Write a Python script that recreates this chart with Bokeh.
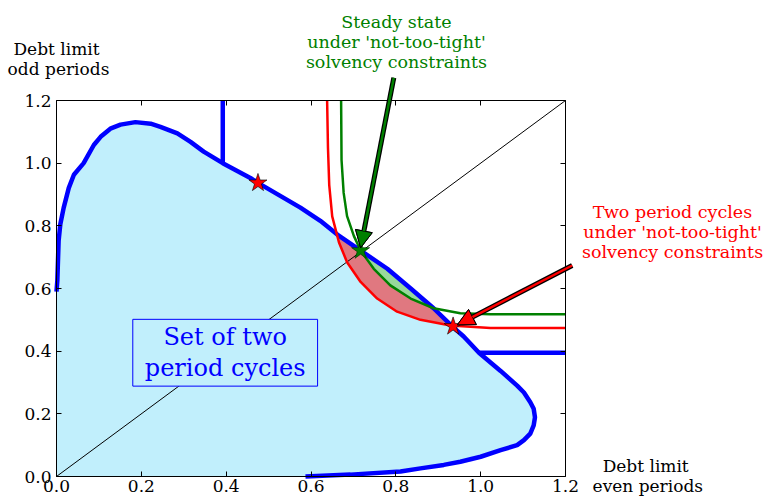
from bokeh.plotting import figure
from bokeh.models import Range1d, LinearAxis, Label, Arrow, NormalHead, FixedTicker, PrintfTickFormatter
from bokeh.embed import file_html
from bokeh.resources import INLINE

# ---- data ----
tick_values = [0.0, 0.2, 0.4, 0.6, 0.8, 1.0, 1.2]

# boundary of the set of two period cycles
set_x = [0.587, 0.693, 0.811, 0.858, 0.913, 0.952, 1.0, 1.047, 1.086, 1.102, 1.117, 1.125, 1.128,
         1.125, 1.117, 1.102, 1.086, 1.047, 0.996, 0.96, 0.933, 0.889, 0.835, 0.78, 0.717, 0.662,
         0.622, 0.575, 0.475, 0.457, 0.392, 0.347, 0.316, 0.285, 0.245, 0.222, 0.186, 0.151, 0.127,
         0.104, 0.088, 0.064, 0.041, 0.029, 0.017, 0.009, 0.005, 0.002, 0.0]
set_y = [0.0, 0.006, 0.016, 0.026, 0.037, 0.047, 0.063, 0.084, 0.1, 0.116, 0.137, 0.163, 0.189,
         0.216, 0.237, 0.268, 0.29, 0.337, 0.395, 0.447, 0.479, 0.537, 0.6, 0.663, 0.721, 0.772,
         0.816, 0.858, 0.937, 0.953, 1.0, 1.037, 1.068, 1.095, 1.116, 1.126, 1.131, 1.123, 1.11,
         1.084, 1.058, 1.0, 0.963, 0.921, 0.858, 0.805, 0.752, 0.626, 0.59]

vert_x = [0.392, 0.392]
vert_y = [1.0, 1.2]
horiz_x = [0.996, 1.2]
horiz_y = [0.395, 0.395]

diag_x = [0.0, 1.2]
diag_y = [0.0, 1.2]

red_x = [0.638, 0.64, 0.643, 0.65, 0.666, 0.685, 0.717, 0.756, 0.803, 0.858, 0.929, 1.023, 1.2]
red_y = [1.2, 1.05, 0.93, 0.83, 0.747, 0.684, 0.621, 0.568, 0.526, 0.5, 0.482, 0.474, 0.474]

green_x = [0.671, 0.672, 0.677, 0.685, 0.701, 0.717, 0.748, 0.787, 0.835, 0.889, 0.952, 1.023, 1.2]
green_y = [1.2, 1.01, 0.905, 0.831, 0.768, 0.721, 0.663, 0.61, 0.568, 0.537, 0.521, 0.518, 0.518]

red_star_x = [0.475, 0.935]
red_star_y = [0.937, 0.479]
green_star_x = [0.717]
green_star_y = [0.721]

# ---- derived polygons ----
fill_x = set_x + [0.0]
fill_y = set_y + [0.0]

def upper_blue(lo, hi):
    pts = [(x, y) for x, y in zip(set_x, set_y) if lo <= x <= hi and y > 0.4]
    pts.sort()
    return pts

rb = upper_blue(0.66, 0.94)
rr = sorted([(x, y) for x, y in zip(red_x, red_y) if 0.66 <= x <= 0.94], reverse=True)
redfill_x = [q[0] for q in rb] + [q[0] for q in rr]
redfill_y = [q[1] for q in rb] + [q[1] for q in rr]

gb = upper_blue(0.717, 0.889)
gg = sorted([(x, y) for x, y in zip(green_x, green_y) if 0.717 < x < 0.889], reverse=True)
greenfill_x = [q[0] for q in gb] + [q[0] for q in gg]
greenfill_y = [q[1] for q in gb] + [q[1] for q in gg]

LIGHT = "#c1effc"
BLUE = "#0000ff"
RED = "#ff0000"
GREEN = "#008000"
SERIF = "DejaVu Serif"

# the frame fills the whole canvas; the 0..1.2 box is drawn by axes at fixed locations
p = figure(width=767, height=499, x_range=Range1d(-0.13202, 1.67622), y_range=Range1d(-0.07340, 1.51915),
           output_backend="svg", toolbar_location=None,
           x_axis_location=None, y_axis_location=None,
           min_border_left=0, min_border_right=0, min_border_top=0, min_border_bottom=0)
p.xgrid.grid_line_color = None
p.ygrid.grid_line_color = None
p.outline_line_color = None
p.background_fill_color = "white"
p.border_fill_color = "white"

axes = {
    "below": LinearAxis(fixed_location=0.0),
    "left": LinearAxis(fixed_location=0.0),
    "above": LinearAxis(fixed_location=1.2),
    "right": LinearAxis(fixed_location=1.2),
}
for side, ax in axes.items():
    ax.bounds = (0.0, 1.2)
    ax.ticker = FixedTicker(ticks=tick_values)
    ax.formatter = PrintfTickFormatter(format="%.1f")
    ax.major_tick_in = 5
    ax.major_tick_out = 0
    ax.minor_tick_line_color = None
    ax.axis_line_color = "black"
    ax.major_tick_line_color = "black"
    ax.major_label_text_font = SERIF
    ax.major_label_text_font_size = "17px"
    ax.major_label_text_color = "black" if side in ("below", "left") else None
axes["below"].major_label_standoff = 3
axes["left"].major_label_standoff = 5

p.patch(fill_x, fill_y, fill_color=LIGHT, line_color=None)
p.patch(redfill_x, redfill_y, fill_color="#e07880", line_color=None)
p.patch(greenfill_x, greenfill_y, fill_color="#98d89c", line_color=None)
p.line(diag_x, diag_y, line_color="black", line_width=1)
p.line(set_x, set_y, line_color=BLUE, line_width=4.5)
p.line(vert_x, vert_y, line_color=BLUE, line_width=4.5)
p.line(horiz_x, horiz_y, line_color=BLUE, line_width=4.5)
p.line(red_x, red_y, line_color=RED, line_width=2.5)
p.line(green_x, green_y, line_color=GREEN, line_width=2.5)
p.scatter(red_star_x, red_star_y, marker="star", size=19, fill_color=RED, line_color="black", line_width=0.6)
p.scatter(green_star_x, green_star_y, marker="star", size=19, fill_color=GREEN, line_color="#003000", line_width=0.6)

for side, ax in axes.items():
    p.add_layout(ax, side)

# arrows
for (xs, ys, xe, ye, col) in [(0.7952, 1.2724, 0.717, 0.73, GREEN), (1.2158, 0.6734, 0.945, 0.484, RED)]:
    p.add_layout(Arrow(x_start=xs, y_start=ys, x_end=xe, y_end=ye, line_color="black", line_width=5,
                       end=NormalHead(size=17, fill_color=col, line_color="black", line_width=1)))
    p.add_layout(Arrow(x_start=xs, y_start=ys, x_end=xe, y_end=ye, line_color=col, line_width=2.5,
                       end=NormalHead(size=17, fill_color=col, line_color="black", line_width=1)))

def lab(x, y, t, font, size, color, align="center"):
    p.add_layout(Label(x=x, y=y, text=t, text_font=font, text_font_size=size, text_color=color,
                       text_align=align, text_baseline="alphabetic"))

lab(0.0, 1.3647, "Debt limit", SERIF, "17px", "black")
lab(0.0047, 1.3008, "odd periods", SERIF, "17px", "black")
lab(1.389, 0.0338, "Debt limit", SERIF, "17px", "black")
lab(1.394, -0.0300, "even periods", SERIF, "17px", "black")

lab(0.8015, 1.4498, "Steady state", SERIF, "17.5px", GREEN)
lab(0.8015, 1.3860, "under 'not-too-tight'", SERIF, "17.5px", GREEN)
lab(0.8015, 1.3221, "solvency constraints", SERIF, "17.5px", GREEN)

lab(1.4523, 0.8454, "Two period cycles", SERIF, "17.5px", RED)
lab(1.4523, 0.7796, "under 'not-too-tight'", SERIF, "17.5px", RED)
lab(1.4523, 0.7158, "solvency constraints", SERIF, "17.5px", RED)

p.add_layout(Label(x=0.3977, y=0.395, text="Set of two\nperiod cycles", text_font=SERIF,
                   text_font_size="24px", text_color=BLUE, text_align="center", text_baseline="middle",
                   text_line_height=1.1,
                   background_fill_color=LIGHT, border_line_color=BLUE, border_line_width=1,
                   padding=dict(left=12, right=12, top=4, bottom=4)))

open("out.html", "w").write(file_html(p, INLINE))
